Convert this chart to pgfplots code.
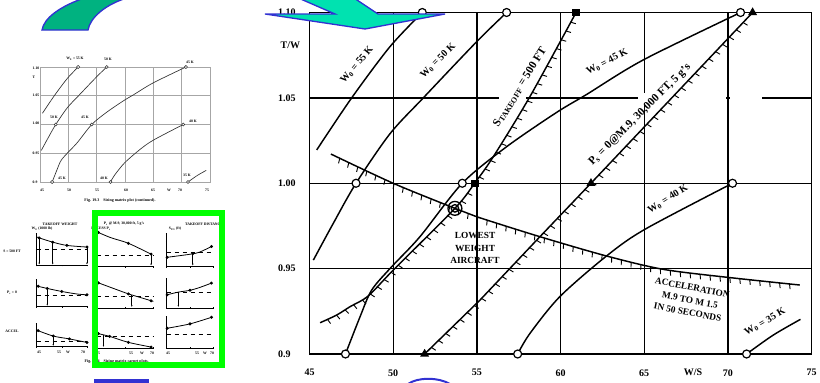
\documentclass[border=0pt]{standalone}
\usepackage{fontspec}
\setmainfont{Liberation Serif}
\usepackage{pgfplots}
\pgfplotsset{compat=1.18}
\usetikzlibrary{decorations.markings,arrows.meta}
\definecolor{arrgreen}{RGB}{0,178,128}
\definecolor{arrteal}{RGB}{0,226,176}
\definecolor{arrblue}{RGB}{50,50,210}
\newcommand{\hatchmark}{\pgfsetlinewidth{0.7pt}\pgfsetdash{}{0pt}\pgfpathmoveto{\pgfpointorigin}\pgfpathlineto{\pgfpoint{0.8pt}{-3.8pt}}\pgfusepath{stroke}}
\pgfplotsset{
 hatch/.style={postaction={decorate, decoration={markings, mark=between positions 0.02 and 0.99 step 7.5pt with {\hatchmark}}}},
 mini/.style={anchor=north west, scale only axis, axis lines=left, axis line style={-, line width=0.6pt},
   xmin=0,xmax=10,ymin=0,ymax=10, xtick={0,5,10}, ytick={2.5,5,7.5,10}, xticklabels={}, yticklabels={},
   major tick length=1.2pt, tick style={line width=0.4pt,black}, clip=false,
   every axis plot/.append style={line width=0.6pt}},
 dots/.style={only marks, mark=*, mark size=0.8pt},
 openc/.style={only marks, mark=*, mark options={fill=white, draw=black, line width=0.9pt, solid}, mark size=3pt},
}
\newcommand{\tn}{\fontsize{2.8}{3}\selectfont\bfseries}
\newcommand{\lb}{\fontsize{7.5}{8}\selectfont\bfseries}
\begin{document}
\begin{tikzpicture}
\path[use as bounding box] (0,0) rectangle (615pt,-286.5pt);

% ---------- top-left thumbnail ----------
\begin{axis}[at={(30pt,-136.5pt)}, anchor=south west, scale only axis, width=127.5pt, height=86.25pt,
  xmin=45,xmax=75,ymin=0.9,ymax=1.1, xtick={45,50,...,75}, ytick={0.9,0.95,1,1.05,1.1},
  grid=major, grid style={gray!70, line width=0.4pt}, axis line style={gray!70,line width=0.4pt},
  xticklabels={}, yticklabels={}, major tick length=0pt, clip=false,
  every axis plot/.append style={line width=0.5pt, black!80}]
\addplot[smooth] coordinates {(45.43,1.0195)(47.52,1.05)(49.81,1.080)(51.74,1.10)};
\addplot[smooth] coordinates {(45.23,0.955)(46.42,0.9765)(47.78,1.00)(49.81,1.029)(51.80,1.05)(54.99,1.0829)(56.78,1.10)};
\addplot[smooth] coordinates {(47.15,0.9)(48.02,0.9218)(48.72,0.9375)(49.91,0.9511)(51.60,0.9687)(54.13,1.00)(56.78,1.0214)(59.77,1.0415)(61.56,1.052)(64.94,1.0722)(70.76,1.10)};
\addplot[smooth] coordinates {(57.44,0.9)(58.17,0.912)(59.96,0.9336)(62.75,0.9574)(65.04,0.973)(70.28,1.00)};
\addplot[smooth] coordinates {(71.12,0.9)(72.7,0.911)(74.34,0.9203)};
\addplot[only marks, mark=*, mark options={fill=white, draw=black!80, line width=0.4pt}, mark size=1.2pt] coordinates {(51.74,1.10)(56.78,1.10)(70.76,1.10)(47.78,1.00)(54.13,1.00)(70.28,1.00)(47.15,0.9)(57.44,0.9)(71.12,0.9)};
\end{axis}

% ---------- left column mini plots ----------
\begin{axis}[mini, at={(27.5pt,-174.75pt)}, width=37.7pt, height=24.5pt]
\addplot[smooth] coordinates {(0,8.8)(0.5,8.5)(3.2,7.2)(6,6.2)(10,5.7)};
\addplot[dashed, line width=0.4pt] coordinates {(0,5)(10,5)};
\addplot[dots] coordinates {(0.5,8.5)(3.2,7.2)(6,6.2)(10,5.7)};
\draw[-{Latex[length=1.5pt]}, line width=0.5pt] (axis cs:0.5,8.5) -- (axis cs:0.5,0.3);
\draw[-{Latex[length=1.5pt]}, line width=0.5pt] (axis cs:3.2,7.2) -- (axis cs:3.2,0.3);
\draw[-{Latex[length=1.5pt]}, line width=0.5pt] (axis cs:10,5.7) -- (axis cs:10,0.3);
\end{axis}
\begin{axis}[mini, at={(27.5pt,-209.25pt)}, width=37.7pt, height=20.8pt]
\addplot[smooth] coordinates {(0,7.5)(2.1,6.6)(5,5.5)(8,4.6)(10,4.3)};
\addplot[dashed, line width=0.4pt] coordinates {(0,4)(10,4)};
\addplot[dots] coordinates {(0.3,7.4)(2.1,6.6)(5,5.5)(10,4.3)};
\draw[-{Latex[length=1.5pt]}, line width=0.5pt] (axis cs:2.1,6.6) -- (axis cs:2.1,0.3);
\end{axis}
\begin{axis}[mini, at={(27.5pt,-242.25pt)}, width=37.7pt, height=17.8pt]
\addplot[smooth] coordinates {(0,7)(3.3,4.5)(6.5,3.3)(10,1.8)};
\addplot[dashed, line width=0.4pt] coordinates {(0,2.3)(10,2.3)};
\addplot[dots] coordinates {(0.3,6.8)(3.3,4.5)(6.5,3.3)(10,1.8)};
\draw[-{Latex[length=1.5pt]}, line width=0.5pt] (axis cs:3.3,4.5) -- (axis cs:3.3,0.3);
\end{axis}

% ---------- green box mini plots ----------
\begin{axis}[mini, at={(72.5pt,-173.8pt)}, width=42.5pt, height=26.25pt]
\addplot[smooth] coordinates {(0,10)(2.5,8.3)(5.6,6.7)(9.6,3.6)};
\addplot[dashed, line width=0.4pt] coordinates {(0,3.3)(10,3.3)};
\addplot[dots] coordinates {(0.3,9.8)(5.6,6.7)(9.6,3.6)};
\draw[-{Latex[length=1.5pt]}, line width=0.5pt] (axis cs:9.6,3.6) -- (axis cs:9.6,0.3);
\end{axis}
\begin{axis}[mini, at={(72.5pt,-208.5pt)}, width=42.5pt, height=22.5pt]
\addplot[smooth] coordinates {(0,8.6)(3,6.5)(5.6,4.7)(7,3.9)(10,2.2)};
\addplot[dashed, line width=0.4pt] coordinates {(0,3.9)(10,3.9)};
\addplot[dots] coordinates {(0.3,8.4)(5.6,4.7)(9.6,2.4)};
\draw[-{Latex[length=1.5pt]}, line width=0.5pt] (axis cs:6.2,4.3) -- (axis cs:6.2,0.3);
\end{axis}
\begin{axis}[mini, at={(72.5pt,-237.5pt)}, width=42.5pt, height=23.5pt]
\addplot[smooth] coordinates {(0,4.7)(2.3,3.7)(5.6,1.8)(9.6,0.3)};
\addplot[dashed, line width=0.4pt] coordinates {(0,3.7)(10,3.7)};
\addplot[dots] coordinates {(0.3,4.6)(2.3,3.7)(5.6,1.8)(9.6,0.3)};
\draw[-{Latex[length=1.5pt]}, line width=0.5pt] (axis cs:1.2,4.2) -- (axis cs:1.2,0.3);
\end{axis}
\begin{axis}[mini, at={(125pt,-174.75pt)}, width=35pt, height=25.3pt]
\addplot[smooth] coordinates {(0.1,2.8)(5,3.7)(7,4.3)(9.6,6.0)};
\addplot[dashed, line width=0.4pt] coordinates {(0,4.3)(10,4.3)};
\addplot[dots] coordinates {(0.1,2.8)(5.6,3.9)(9.6,6.0)};
\draw[-{Latex[length=1.5pt]}, line width=0.5pt] (axis cs:5.6,4.0) -- (axis cs:5.6,0.3);
\end{axis}
\begin{axis}[mini, at={(125pt,-208.5pt)}, width=35pt, height=22.5pt]
\addplot[smooth] coordinates {(0.1,4.4)(2.5,5.3)(5,5.9)(7,6.8)(9.6,8.3)};
\addplot[dashed, line width=0.4pt] coordinates {(0,5.4)(10,5.4)};
\addplot[dots] coordinates {(0.1,4.4)(5,5.9)(9.6,8.3)};
\draw[-{Latex[length=1.5pt]}, line width=0.5pt] (axis cs:2.5,5.3) -- (axis cs:2.5,0.3);
\end{axis}
\begin{axis}[mini, at={(125pt,-237.5pt)}, width=35pt, height=23.5pt]
\addplot[smooth] coordinates {(0.1,6.3)(5,7.7)(9.6,9.8)};
\addplot[dashed, line width=0.4pt] coordinates {(0,4.5)(10,4.5)};
\addplot[dots] coordinates {(0.1,6.3)(5,7.7)(9.6,9.8)};
\end{axis}

% ---------- main chart ----------
\begin{axis}[at={(232.125pt,-265.5pt)}, anchor=south west, scale only axis,
  width=376.5pt, height=256.125pt,
  xmin=45, xmax=75, ymin=0.9, ymax=1.1,
  xtick={45,50,...,75}, ytick={0.9,0.95,1.0,1.05,1.1},
  xticklabels={45,50,55,60,65,70,75}, yticklabels={0.9,0.95,1.00,1.05,1.10},
  grid=major, grid style={black, line width=1pt},
  axis line style={line width=1.2pt}, major tick length=0pt,
  tick label style={font=\fontsize{7.5}{8}\selectfont\bfseries},
  /pgf/number format/assume math mode=true,
  xticklabel style={yshift=-8pt},
  yticklabel style={anchor=west, xshift=-27pt},
  clip=false,
  every axis plot/.append style={line width=1.1pt, black}]
\fill[white] (axis cs:56.32,1.047) rectangle (axis cs:57.93,1.053);
\fill[white] (axis cs:64.62,1.047) rectangle (axis cs:69.88,1.053);
\fill[white] (axis cs:70.12,1.047) rectangle (axis cs:72.03,1.053);
% W0 curves
\addplot[smooth] coordinates {(45.43,1.0195)(47.52,1.05)(49.81,1.080)(51.74,1.10)};
\addplot[smooth] coordinates {(45.23,0.955)(46.42,0.9765)(47.78,1.00)(49.81,1.029)(51.80,1.05)(54.99,1.0829)(56.78,1.10)};
\addplot[smooth] coordinates {(47.15,0.9)(48.02,0.9218)(48.72,0.9375)(49.91,0.9511)(51.60,0.9687)(54.13,1.00)(56.78,1.0214)(59.77,1.0415)(61.56,1.052)(64.94,1.0722)(70.76,1.10)};
\addplot[smooth] coordinates {(57.44,0.9)(58.17,0.912)(59.96,0.9336)(62.75,0.9574)(65.04,0.973)(70.28,1.00)};
\addplot[smooth] coordinates {(71.12,0.9)(72.7,0.911)(74.34,0.9203)};
% constraint lines (hatched)
\addplot[smooth, hatch] coordinates {(45.63,0.9183)(46.62,0.9228)(47.42,0.9277)(48.51,0.934)(50.01,0.9492)(53.69,0.9853)(54.89,1.0003)(55.98,1.0155)(58.17,1.0507)(60.93,1.10)};
\addplot[hatch] coordinates {(51.88,0.9)(55.19,0.9316)(58.77,0.9687)(61.82,1.0)(71.48,1.10)};
\addplot[smooth, hatch] coordinates {(46.28,1.0171)(50.0,1.0)(53.69,0.9853)(54.99,0.9804)(58.77,0.9687)(62.75,0.9574)(66.13,0.9496)(69.98,0.9449)(74.30,0.9404)};
% markers
\addplot[openc] coordinates {(51.74,1.10)(56.78,1.10)(70.76,1.10)(47.78,1.00)(54.13,1.00)(70.28,1.00)(47.15,0.9)(57.44,0.9)(71.12,0.9)};
\addplot[only marks, mark=square*, mark size=2.2pt] coordinates {(60.93,1.10)(54.89,1.00)};
\addplot[only marks, mark=triangle*, mark size=2.8pt] coordinates {(71.48,1.10)(61.82,1.00)(51.88,0.9)};
\addplot[only marks, mark=o, mark size=5.2pt, mark options={line width=1pt}] coordinates {(53.69,0.9853)};
\addplot[only marks, mark=o, mark size=2.8pt, mark options={line width=1pt}] coordinates {(53.69,0.9853)};
\end{axis}

\begin{scope}[x=0.75pt,y=-0.75pt]
% main chart labels
\node[anchor=west, font=\lb] at (276,45) {T/W};
\node[font=\lb] at (693,372) {W/S};
\node[font=\lb, rotate=50] at (357,65) {W\textsubscript{0} = 55 K};
\node[font=\lb, rotate=45] at (438,61) {W\textsubscript{0} = 50 K};
\node[font=\fontsize{8.5}{9}\selectfont\bfseries, rotate=58] at (520,87) {S\textsubscript{TAKEOFF} = 500 FT};
\node[font=\lb, rotate=28] at (607,62) {W\textsubscript{0} = 45 K};
\node[font=\fontsize{8.5}{9}\selectfont\bfseries, rotate=45] at (640,115) {P\textsubscript{s} = 0@M.9, 30,000 FT, 5 g's};
\node[font=\lb, rotate=32] at (668,199) {W\textsubscript{0} = 40 K};
\node[font=\lb, rotate=30] at (765,322) {W\textsubscript{0} = 35 K};
\node[font=\fontsize{7}{9.4}\selectfont\bfseries, align=center] at (475,248) {LOWEST\\WEIGHT\\AIRCRAFT};
\node[font=\fontsize{7}{9.4}\selectfont\bfseries, align=center, rotate=-11] at (690,300) {ACCELERATION\\M.9 TO M 1.5\\IN 50 SECONDS};

% thumbnail labels
\node[font=\tn] at (75,59) {W\textsubscript{0} = 55 K};
\node[font=\tn] at (108,59) {50 K};
\node[font=\tn] at (190,62) {45 K};
\node[font=\tn] at (54,117) {50 K};
\node[font=\tn] at (85,117) {45 K};
\node[font=\tn] at (193,121) {40 K};
\node[font=\tn] at (62,178) {45 K};
\node[font=\tn] at (104,178) {40 K};
\node[font=\tn] at (187,175) {35 K};
\foreach \yy/\tt in {68/1.10,77/T/W,95/1.05,123/1.00,153/0.95,182/0.9}
  \node[font=\tn, anchor=west] at (28,\yy) {\tt};
\foreach \xx/\tt in {42/45,69/50,97/55,126/60,153/65,169/W/S,180/70,207/75}
  \node[font=\tn] at (\xx,190) {\tt};
\node[font=\fontsize{3}{3.5}\selectfont\bfseries] at (120,201) {Fig. 19.3\quad Sizing matrix plot (continued).};

% bottom-left labels
\node[font=\tn] at (60,224) {TAKEOFF WEIGHT};
\node[font=\tn] at (42,229) {W\textsubscript{0} (1000 lb)};
\node[font=\tn] at (12,251) {S = 500 FT};
\node[font=\tn] at (12,293) {P\textsubscript{s} = 0};
\node[font=\tn] at (12,331) {ACCEL};
\foreach \xx/\tt in {39/45,59/55,68/W/S,83/70}
  \node[font=\tn] at (\xx,352) {\tt};
\node[font=\tn] at (124,224) {P\textsubscript{s} @ M.9, 30,000 ft, 5 g's};
\node[font=\tn] at (204,224) {TAKEOFF DISTANCE};
\node[font=\tn] at (101,229) {EXCESS P\textsubscript{s}};
\node[font=\tn] at (175,229) {S\textsubscript{TO} (ft)};
\foreach \xx/\tt in {98/45,131/55,142/W/S,152/70,168/45,197/55,205/W/S,212/70}
  \node[font=\tn] at (\xx,353) {\tt};
\node[font=\fontsize{3}{3.5}\selectfont\bfseries, anchor=west] at (80,362) {Fig. 19.4\quad Sizing matrix carpet plots.};

% green frame
\draw[green, line width=4.5pt] (95,213) rectangle (222,365);

% arrows (decorative)
\filldraw[fill=arrgreen, draw=arrblue, line width=1pt]
  (42,30) -- (88,30) .. controls (90,18) and (105,4) .. (130,-3) -- (87,-3) .. controls (60,6) and (44,18) .. (42,30) -- cycle;
\filldraw[fill=arrteal, draw=arrblue, line width=1pt]
  (265,14) -- (335,14) -- (280,-10) -- (342,-10) -- (378,14) -- (445,14) -- (365,29) -- cycle;
\fill[arrblue] (94,379) rectangle (149,383);
\draw[arrblue, line width=1.5pt] (408,384) .. controls (418,377) and (438,377) .. (450,384);
\end{scope}
\end{tikzpicture}
\end{document}
